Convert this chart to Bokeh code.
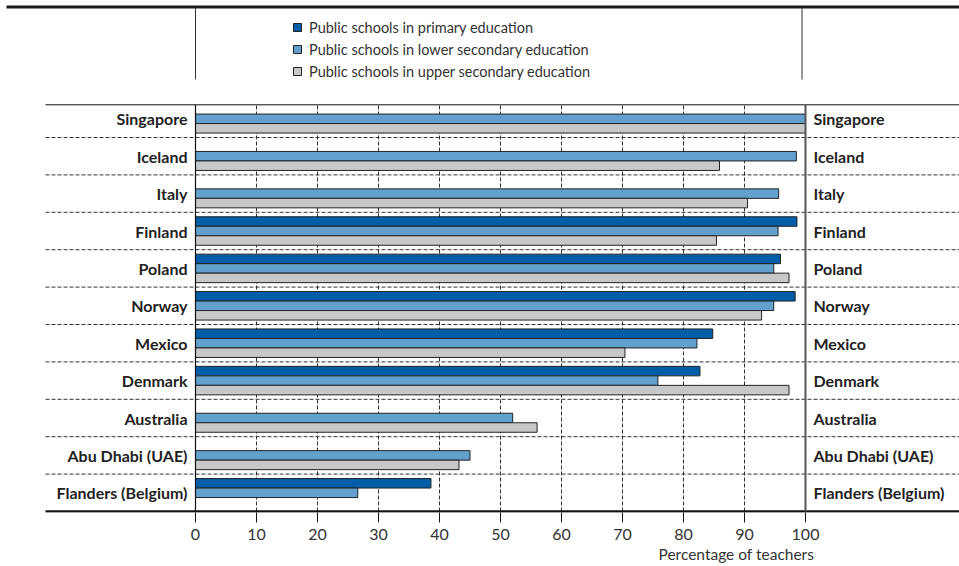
from bokeh.plotting import figure
from bokeh.models import (ColumnDataSource, Range1d, FixedTicker, Legend, LegendItem, Title)
from bokeh.transform import dodge
from bokeh.core.properties import value
from bokeh.embed import file_html
from bokeh.resources import INLINE

NaN = float("nan")

countries = ["Singapore", "Iceland", "Italy", "Finland", "Poland", "Norway",
             "Mexico", "Denmark", "Australia", "Abu Dhabi (UAE)", "Flanders (Belgium)"]
primary = [NaN, NaN, NaN, 98.6, 95.9, 98.3, 84.8, 82.7, NaN, NaN, 38.6]
lower = [100.0, 98.5, 95.6, 95.5, 94.8, 94.8, 82.2, 75.8, 52.0, 45.0, 26.6]
upper = [100.0, 85.9, 90.5, 85.4, 97.3, 92.8, 70.4, 97.3, 56.0, 43.2, NaN]
series_names = ["Public schools in primary education",
                "Public schools in lower secondary education",
                "Public schools in upper secondary education"]
series_colors = ["#005EA8", "#62A0CE", "#C7C8CA"]
tick_values = [0, 10, 20, 30, 40, 50, 60, 70, 80, 90, 100]
axis_title = "Percentage of teachers"

n = len(countries)
ys = [n - i - 0.5 for i in range(n)]

src = ColumnDataSource(dict(country=countries, y=ys, primary=primary,
                            lower=lower, upper=upper,
                            zero=[0] * n, hundred=[100] * n))

W, H = 959, 566
FRAME_BOTTOM = 512
PX_X = 6.1      # pixels per percentage point
PX_Y = 37.4     # pixels per row
X0 = 195        # screen x of value 0
Y0 = 511        # screen y of value 0
xs_start = -X0 / PX_X
xs_end = (W - X0) / PX_X
ys_start = -(FRAME_BOTTOM - Y0) / PX_Y
ys_end = Y0 / PX_Y
top_line_y = n - 1 + 32.7 / PX_Y

p = figure(width=W, height=H, output_backend="svg", toolbar_location=None,
           x_range=Range1d(xs_start, xs_end), y_range=Range1d(ys_start, ys_end),
           y_axis_location=None, min_border_left=0, min_border_right=0,
           min_border_top=0, min_border_bottom=H - FRAME_BOTTOM)
p.outline_line_color = None
p.xgrid.grid_line_color = None
p.ygrid.grid_line_color = None

dash_col = "#333333"
# vertical dashed grid
grid_x = tick_values[1:-1]
p.segment(x0=grid_x, y0=[0] * len(grid_x), x1=grid_x, y1=[top_line_y] * len(grid_x),
          line_color=dash_col, line_width=1, line_dash="4 2")
# row separators
sep_y = list(range(1, n))
left_edge = (45 - X0) / PX_X
p.segment(x0=[left_edge] * len(sep_y), y0=sep_y, x1=[xs_end] * len(sep_y), y1=sep_y,
          line_color=dash_col, line_width=1, line_dash="4 2")

bh = 9.5 / PX_Y
rs = []
for col, color, off in zip(["primary", "lower", "upper"], series_colors, [bh, 0, -bh]):
    r = p.hbar(y=dodge("y", off), left="zero", right=col, height=bh, source=src,
               fill_color=color, line_color="#222222", line_width=1)
    rs.append(r)

# frame lines
p.segment(x0=[left_edge], y0=[top_line_y], x1=[xs_end], y1=[top_line_y], line_color="#111111", line_width=1)
p.segment(x0=[left_edge], y0=[0], x1=[xs_end], y1=[0], line_color="#111111", line_width=2.5)
p.segment(x0=[0], y0=[0], x1=[0], y1=[top_line_y], line_color="#111111", line_width=1.2)
p.segment(x0=[100], y0=[0], x1=[100], y1=[top_line_y], line_color="#555555", line_width=2)
# header lines
head_y = (Y0 - 6.5) / PX_Y
p.segment(x0=[(6 - X0) / PX_X], y0=[head_y], x1=[xs_end], y1=[head_y], line_color="#1a1a1a", line_width=3)
leg_bottom = (Y0 - 79) / PX_Y
leg_top = (Y0 - 7) / PX_Y
p.segment(x0=[0, (801.5 - X0) / PX_X], y0=[leg_bottom] * 2,
          x1=[0, (801.5 - X0) / PX_X], y1=[leg_top] * 2, line_color="#333333", line_width=1)

# country labels
p.text(x="zero", y="y", text="country", source=src, text_align="right", text_baseline="middle",
       x_offset=-8, text_font=value("Lato"), text_font_style="bold", text_font_size="16px",
       text_color="#222222")
p.text(x="hundred", y="y", text="country", source=src, text_align="left", text_baseline="middle",
       x_offset=8, text_font=value("Lato"), text_font_style="bold", text_font_size="16px",
       text_color="#222222")

ax = p.xaxis[0]
ax.ticker = FixedTicker(ticks=tick_values)
ax.axis_line_color = None
ax.major_tick_out = 10
ax.major_tick_in = 0
ax.major_tick_line_color = "#111111"
ax.minor_tick_line_color = None
ax.major_label_standoff = 6
ax.major_label_text_font = "Lato"
ax.major_label_text_font_size = "16px"
ax.major_label_text_color = "#333333"

p.add_layout(Title(text=axis_title, align="left", offset=658, standoff=0,
                   text_font="Lato", text_font_style="normal", text_font_size="15.5px",
                   text_color="#333333"), "below")

legend = Legend(items=[LegendItem(label=nm, renderers=[r]) for nm, r in zip(series_names, rs)],
                location=(292, FRAME_BOTTOM - 82), orientation="vertical",
                glyph_width=10, glyph_height=10, label_height=22, spacing=0,
                padding=0, margin=0, label_standoff=7,
                label_text_font="Lato", label_text_font_size="14.5px", label_text_color="#333333",
                border_line_color=None, background_fill_alpha=0)
p.add_layout(legend)

open("out.html", "w").write(file_html(p, INLINE))
